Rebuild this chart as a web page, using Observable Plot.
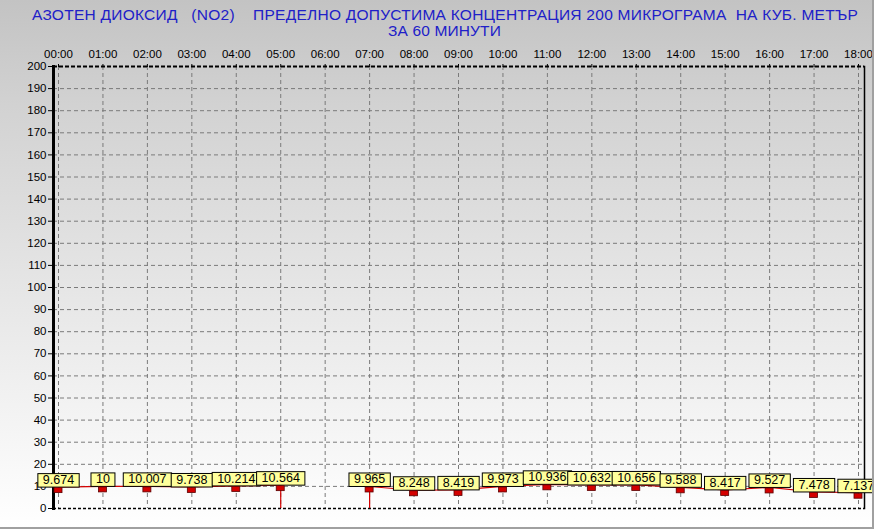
<!DOCTYPE html>
<html>
<head>
<meta charset="utf-8">
<script src="https://cdn.jsdelivr.net/npm/d3@7"></script>
<script src="https://cdn.jsdelivr.net/npm/@observablehq/plot@0.6"></script>
<style>
  html, body { margin: 0; padding: 0; }
  #wrap {
    position: relative; width: 874px; height: 529px; overflow: hidden;
    background: linear-gradient(#c3c3c3 0%, #d2d2d2 20%, #e6e6e6 55%, #ffffff 100%);
    font-family: "Liberation Sans", Arial, sans-serif;
  }
  #wrap svg { position: absolute; left: 0; top: 0; background: transparent; }
  .title {
    position: absolute; color: #2020c8; font-size: 15.5px; white-space: pre;
    line-height: 16px; z-index: 2;
  }
  #border {
    position: absolute; left: 0; top: 0; width: 872px; height: 527px;
    border-right: 2px solid #a0a0a0; border-bottom: 2px solid #a0a0a0; z-index: 3;
  }
</style>
</head>
<body>
<div id="wrap">
  <span class="title" id="t1" style="top:7px">АЗОТЕН ДИОКСИД   (NO2)    ПРЕДЕЛНО ДОПУСТИМА КОНЦЕНТРАЦИЯ 200 МИКРОГРАМА  НА КУБ. МЕТЪР</span>
  <span class="title" id="t2" style="top:23px">ЗА 60 МИНУТИ</span>
  <div id="border"></div>
</div>
<script>
const hours = ["00:00","01:00","02:00","03:00","04:00","05:00","06:00","07:00","08:00","09:00",
               "10:00","11:00","12:00","13:00","14:00","15:00","16:00","17:00","18:00"];
const values = [9.674, 10, 10.007, 9.738, 10.214, 10.564, null, 9.965, 8.248, 8.419,
                9.973, 10.936, 10.632, 10.656, 9.588, 8.417, 9.527, 7.478, 7.137];
const valueLabels = ["9.674","10","10.007","9.738","10.214","10.564","","9.965","8.248","8.419",
                     "9.973","10.936","10.632","10.656","9.588","8.417","9.527","7.478","7.137"];
const yTicks = [0,10,20,30,40,50,60,70,80,90,100,110,120,130,140,150,160,170,180,190,200];

const rows = hours.map((h, i) => ({i, h, v: values[i], label: valueLabels[i]}));
const valid = rows.filter(d => d.v != null);
const gapEdges = valid.filter(d =>
  (d.i > 0 && values[d.i - 1] == null) || (d.i < values.length - 1 && values[d.i + 1] == null));
const xTicks = rows.map(d => d.i);
const innerY = yTicks.filter(t => t > 0 && t < 200);

const red = "#d40000";
const plot = Plot.plot({
  width: 874,
  height: 529,
  marginLeft: 53,
  marginRight: 10,
  marginTop: 66,
  marginBottom: 21,
  style: {background: "transparent", fontFamily: "'Liberation Sans', Arial, sans-serif", color: "#000"},
  x: {domain: [0, 18], insetLeft: 5, insetRight: 6, axis: null},
  y: {domain: [0, 200], axis: null},
  marks: [
    Plot.gridX(xTicks, {stroke: "#7a7a7a", strokeOpacity: 1, strokeDasharray: "4,3"}),
    Plot.gridY(innerY, {stroke: "#7a7a7a", strokeOpacity: 1, strokeDasharray: "4,3"}),
    Plot.ruleY([200], {stroke: "#000", strokeWidth: 2, strokeDasharray: "4,2"}),
    Plot.ruleY([0], {stroke: "#000", strokeWidth: 1.5, strokeDasharray: "3,2"}),
    Plot.frame({anchor: "left", stroke: "#000", strokeWidth: 3}),
    Plot.frame({anchor: "right", stroke: "#000", strokeWidth: 1.5}),
    Plot.axisY(yTicks, {anchor: "left", label: null, tickSize: 5, tickPadding: 2, fontSize: 11.5, stroke: "#000"}),
    Plot.axisX(xTicks, {anchor: "top", label: null, tickSize: 3, tickPadding: 6, fontSize: 11.5,
                        tickFormat: i => hours[i], stroke: "#000"}),
    Plot.line(rows, {x: "i", y: "v", stroke: red, strokeWidth: 1.2}),
    Plot.ruleX(gapEdges, {x: "i", y1: 0, y2: "v", stroke: red, strokeWidth: 1.2}),
    Plot.text(valid, {x: "i", y: "v", text: "label", dy: -7, fontSize: 12.5, fill: "#000", lineAnchor: "middle"}),
    Plot.rect(valid, {x1: "i", x2: "i", y1: "v", y2: "v", fill: red, stroke: "#5a0000", strokeWidth: 0.8,
                      insetLeft: -4, insetRight: -4, insetTop: 1, insetBottom: -6})
  ]
});
document.getElementById("wrap").insertBefore(plot, document.getElementById("border"));

// yellow boxes behind the value labels, sized from the rendered text
plot.querySelectorAll('g[aria-label="text"] text').forEach(t => {
  const b = t.getBBox();
  const r = document.createElementNS("http://www.w3.org/2000/svg", "rect");
  r.setAttribute("x", b.x - 5);
  r.setAttribute("y", b.y + 0.5);
  r.setAttribute("width", b.width + 10);
  r.setAttribute("height", b.height - 0.5);
  r.setAttribute("fill", "#ffff9c");
  r.setAttribute("stroke", "#000");
  r.setAttribute("stroke-width", "1");
  if (t.getAttribute("transform")) r.setAttribute("transform", t.getAttribute("transform"));
  t.parentNode.insertBefore(r, t);
});

// fit the two title lines to the extent they occupy in the reference
function fit(id, x0, x1) {
  const el = document.getElementById(id);
  const n = el.textContent.length;
  const w = el.getBoundingClientRect().width;
  el.style.letterSpacing = ((x1 - x0) - w) / n + "px";
  el.style.left = x0 + "px";
}
fit("t1", 32, 858);
fit("t2", 388, 501);
</script>
</body>
</html>
